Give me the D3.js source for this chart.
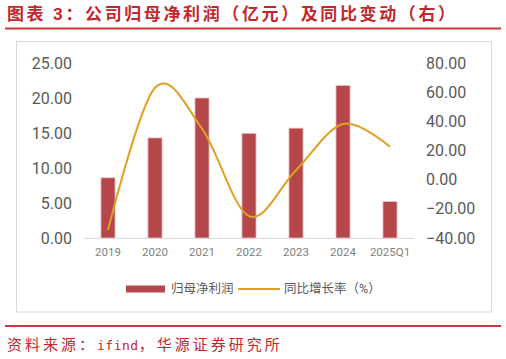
<!DOCTYPE html>
<html>
<head>
<meta charset="utf-8">
<script src="https://cdn.jsdelivr.net/npm/d3@7"></script>
<style>
  body { margin: 0; background: #fff; }
  text { font-family: Roboto, "Noto Sans CJK SC", sans-serif; }
</style>
</head>
<body>
<script>
var width = 506;
var height = 359;

// data
var years = ["2019", "2020", "2021", "2022", "2023", "2024", "2025Q1"];
var profit = [8.6, 14.3, 20.0, 14.95, 15.7, 21.8, 5.2];
var growth = [-34.5, 63, 35, -25, 6.5, 38.2, 22.6];
var leftTicks = [0, 5, 10, 15, 20, 25];
var rightTicks = [-40, -20, 0, 20, 40, 60, 80];

var red = "#c3262c";

var svg = d3.select("body")
  .append("svg")
  .attr("width", width)
  .attr("height", height);

// title + underline
svg.append("text")
  .attr("x", 7)
  .attr("y", 20)
  .attr("fill", red)
  .attr("font-size", 17)
  .attr("font-weight", "bold")
  .attr("font-family", "'Noto Sans CJK SC', sans-serif")
  .attr("textLength", 448)
  .attr("lengthAdjust", "spacing")
  .text("图表 3：公司归母净利润（亿元）及同比变动（右）");

svg.append("line")
  .attr("x1", 5).attr("x2", 501)
  .attr("y1", 28.5).attr("y2", 28.5)
  .attr("stroke", "#c9393e")
  .attr("stroke-width", 2);

// chart frame
svg.append("rect")
  .attr("x", 16.5).attr("y", 41.5)
  .attr("width", 475).attr("height", 270.5)
  .attr("fill", "none")
  .attr("stroke", "#d9d9d9")
  .attr("stroke-width", 1);

var x = d3.scaleBand()
  .domain(years)
  .range([84.5, 413.5])
  .paddingInner(0.7)
  .paddingOuter(0.35);

var yL = d3.scaleLinear().domain([0, 25]).range([238, 63]);
var yR = d3.scaleLinear().domain([-40, 80]).range([238, 63]);

// left axis
var axL = svg.append("g")
  .attr("transform", "translate(72,0)")
  .call(d3.axisLeft(yL).tickValues(leftTicks).tickSize(0).tickPadding(0)
    .tickFormat(d3.format(".2f")));
axL.select(".domain").remove();
axL.selectAll("text")
  .attr("font-size", 16)
  .attr("font-family", "Roboto, sans-serif")
  .attr("fill", "#595959");

// right axis
var axR = svg.append("g")
  .attr("transform", "translate(426,0)")
  .call(d3.axisRight(yR).tickValues(rightTicks).tickSize(0).tickPadding(0)
    .tickFormat(d3.format(".2f")));
axR.select(".domain").remove();
axR.selectAll("text")
  .attr("font-size", 16)
  .attr("font-family", "Roboto, sans-serif")
  .attr("fill", "#595959");

// bars
svg.append("g")
  .selectAll("rect")
  .data(profit)
  .enter().append("rect")
    .attr("x", function(d, i) { return x(years[i]); })
    .attr("y", function(d) { return yL(d); })
    .attr("width", x.bandwidth())
    .attr("height", function(d) { return yL(0) - yL(d); })
    .attr("fill", "#b5474a")
    .attr("stroke", "#ecc3c3")
    .attr("stroke-width", 0.8);

// baseline
svg.append("line")
  .attr("x1", 84).attr("x2", 414)
  .attr("y1", 238.5).attr("y2", 238.5)
  .attr("stroke", "#d9d9d9")
  .attr("stroke-width", 1);

// x labels
var axX = svg.append("g")
  .attr("transform", "translate(0,248)")
  .call(d3.axisBottom(x).tickSize(0).tickPadding(0));
axX.select(".domain").remove();
axX.selectAll("text")
  .attr("font-size", 11.5)
  .attr("font-family", "Roboto, sans-serif")
  .attr("fill", "#7f7f7f");

// smoothed growth line
var line = d3.line()
  .x(function(d, i) { return x(years[i]) + x.bandwidth() / 2; })
  .y(function(d) { return yR(d); })
  .curve(d3.curveCardinal.tension(0));

svg.append("path")
  .datum(growth)
  .attr("d", line)
  .attr("fill", "none")
  .attr("stroke", "#dfa024")
  .attr("stroke-width", 2);

// legend
var leg = svg.append("g").attr("transform", "translate(0,289)");
leg.append("rect")
  .attr("x", 126).attr("y", -3.5)
  .attr("width", 39).attr("height", 7)
  .attr("fill", "#b5474a");
leg.append("text")
  .attr("x", 171).attr("y", 0)
  .attr("dy", "0.35em")
  .attr("font-size", 12.5)
  .attr("font-family", "'Noto Sans CJK SC', sans-serif")
  .attr("fill", "#595959")
  .text("归母净利润");
leg.append("line")
  .attr("x1", 238).attr("x2", 280)
  .attr("y1", 0).attr("y2", 0)
  .attr("stroke", "#dfa024")
  .attr("stroke-width", 2);
leg.append("text")
  .attr("x", 284).attr("y", 0)
  .attr("dy", "0.35em")
  .attr("font-size", 12.5)
  .attr("font-family", "'Noto Sans CJK SC', sans-serif")
  .attr("fill", "#595959")
  .text("同比增长率（%）");

// footer
svg.append("line")
  .attr("x1", 5).attr("x2", 501)
  .attr("y1", 326).attr("y2", 326)
  .attr("stroke", "#c9393e")
  .attr("stroke-width", 2);

var foot = svg.append("text")
  .attr("x", 7)
  .attr("y", 350)
  .attr("fill", red)
  .attr("font-size", 15)
  .attr("font-family", "'Noto Sans CJK SC', sans-serif")
  .attr("letter-spacing", 3);
foot.append("tspan").text("资料来源：");
foot.append("tspan")
  .attr("font-family", "'DejaVu Sans Mono', monospace")
  .attr("font-size", 13)
  .attr("letter-spacing", 0.5)
  .text("ifind");
foot.append("tspan").text("，华源证券研究所");
</script>
</body>
</html>
